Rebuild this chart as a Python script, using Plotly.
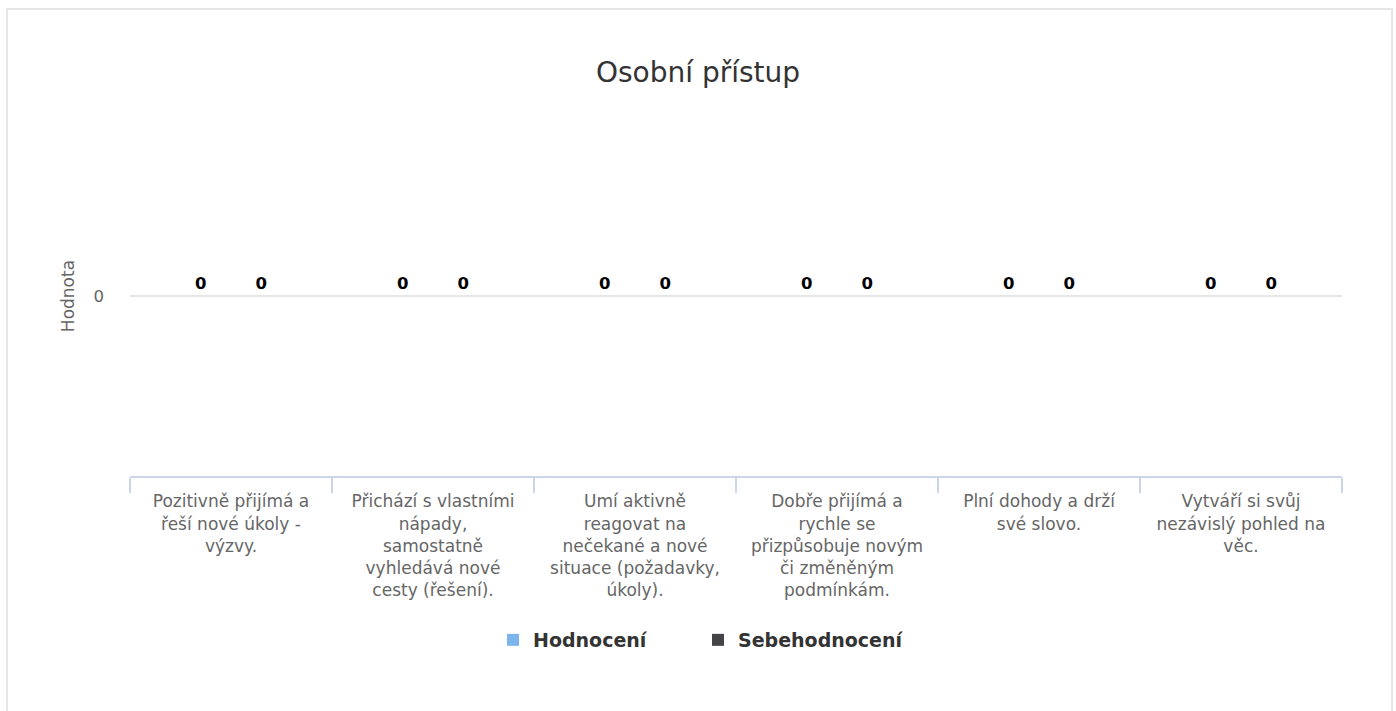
import plotly.graph_objects as go

categories = [
    "Pozitivně přijímá a<br>řeší nové úkoly -<br>výzvy.",
    "Přichází s vlastními<br>nápady,<br>samostatně<br>vyhledává nové<br>cesty (řešení).",
    "Umí aktivně<br>reagovat na<br>nečekané a nové<br>situace (požadavky,<br>úkoly).",
    "Dobře přijímá a<br>rychle se<br>přizpůsobuje novým<br>či změněným<br>podmínkám.",
    "Plní dohody a drží<br>své slovo.",
    "Vytváří si svůj<br>nezávislý pohled na<br>věc.",
]
hodnoceni = [0, 0, 0, 0, 0, 0]
sebehodnoceni = [0, 0, 0, 0, 0, 0]
series_names = ["Hodnocení", "Sebehodnocení"]
colors = ["#7cb5ec", "#434348"]

W, H = 1396, 711
L, R, T, B = 130, 54, 116, 235
PW, PH = W - L - R, H - T - B

def px_x(x):
    return (x - L) / PW

def px_y(y):
    return (H - B - y) / PH

font_family = "DejaVu Sans, Verdana, sans-serif"

fig = go.Figure()
for name, vals, col in zip(series_names, [hodnoceni, sebehodnoceni], colors):
    fig.add_trace(go.Bar(
        x=categories, y=vals, name=name, marker_color=col,
        marker_line=dict(width=0),
        text=[str(v) for v in vals], textposition="outside",
        textfont=dict(family=font_family, size=16.5, color="#000000", weight="bold"),
        cliponaxis=False, hoverinfo="skip",
    ))

fig.update_layout(
    width=W, height=H,
    margin=dict(l=L, r=R, t=T, b=B),
    paper_bgcolor="#ffffff", plot_bgcolor="#ffffff",
    font=dict(family=font_family, color="#666666"),
    barmode="group", bargap=0.4, bargroupgap=0.2,
    title=dict(text="Osobní přístup", x=0.5, xref="container", xanchor="center",
               y=1 - 72 / H, yref="container", yanchor="middle",
               font=dict(family=font_family, size=28, color="#333333")),
    legend=dict(orientation="h", x=0.5, xref="container", xanchor="center",
                y=1 - 640 / H, yref="container", yanchor="middle",
                font=dict(family=font_family, size=19, color="#333333", weight="bold"),
                entrywidth=160, entrywidthmode="pixels"),
    showlegend=True,
    hovermode=False,
)

fig.update_xaxes(
    type="category", showline=True, linecolor="#ccd6eb", linewidth=2,
    ticks="outside", tickson="boundaries", ticklen=15, tickcolor="#ccd6eb", tickwidth=2,
    tickfont=dict(family=font_family, size=17, color="#666666"),
    ticklabelstandoff=9,
    showgrid=False, zeroline=False, tickangle=0,
)
fig.update_yaxes(
    range=[-1, 1], tickvals=[0], ticktext=["0"],
    showgrid=True, gridcolor="#e6e6e6", gridwidth=2, zeroline=False,
    showline=False, ticks="", ticklabelstandoff=25,
    tickfont=dict(family=font_family, size=16.5, color="#666666"),
    title=dict(text="Hodnota", standoff=14,
               font=dict(family=font_family, size=17, color="#666666")),
)

fig.add_shape(type="rect", xref="paper", yref="paper",
              x0=px_x(7), x1=px_x(1392), y0=px_y(730), y1=px_y(9),
              line=dict(color="#e6e6e6", width=2), fillcolor="rgba(0,0,0,0)", layer="below")

fig.write_html("out.html", config={"displayModeBar": False},
               post_script="document.body.style.margin='0px';")
